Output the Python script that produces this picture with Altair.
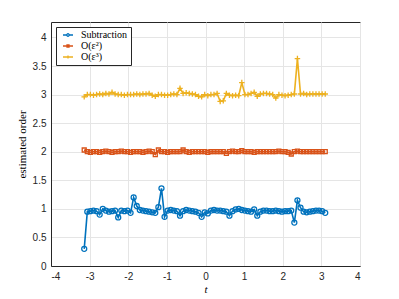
import altair as alt
import pandas as pd

t = [-3.14, -3.06, -2.98, -2.90, -2.82, -2.74, -2.66, -2.58, -2.50, -2.42,
     -2.34, -2.26, -2.18, -2.10, -2.02, -1.94, -1.86, -1.78, -1.70, -1.62,
     -1.54, -1.46, -1.38, -1.30, -1.22, -1.14, -1.06, -0.98, -0.90, -0.82,
     -0.74, -0.66, -0.58, -0.50, -0.42, -0.34, -0.26, -0.18, -0.10, -0.02,
     0.06, 0.14, 0.22, 0.30, 0.38, 0.46, 0.54, 0.62, 0.70, 0.78,
     0.86, 0.94, 1.02, 1.10, 1.18, 1.26, 1.34, 1.42, 1.50, 1.58,
     1.66, 1.74, 1.82, 1.90, 1.98, 2.06, 2.14, 2.22, 2.30, 2.38,
     2.46, 2.54, 2.62, 2.70, 2.78, 2.86, 2.94, 3.02, 3.10]

subtraction = [0.30, 0.95, 0.96, 0.97, 0.96, 0.90, 1.00, 0.97, 0.95, 0.96,
               0.97, 0.85, 0.97, 0.96, 0.97, 0.93, 1.20, 1.05, 0.98, 0.97,
               0.96, 0.95, 0.94, 0.93, 1.03, 1.36, 0.86, 0.97, 0.98, 0.97,
               0.96, 0.88, 0.96, 0.98, 0.97, 0.96, 0.95, 0.93, 0.86, 0.94,
               0.92, 0.97, 0.98, 0.97, 0.97, 0.96, 0.95, 0.88, 0.96, 0.99,
               1.00, 0.98, 0.97, 0.96, 0.95, 0.99, 0.88, 0.95, 0.97, 0.97,
               0.96, 0.96, 0.97, 0.96, 0.95, 0.96, 0.96, 0.97, 0.76, 1.15,
               1.02, 0.95, 0.94, 0.95, 0.96, 0.97, 0.97, 0.96, 0.93]

order2 = [2.03, 2.00, 1.99, 2.00, 2.00, 1.99, 2.00, 2.01, 2.00, 1.99,
          2.00, 2.00, 2.01, 2.00, 2.00, 1.99, 2.00, 2.00, 2.00, 1.99,
          2.00, 2.01, 2.00, 1.95, 2.03, 2.00, 2.00, 1.99, 2.00, 2.00,
          2.00, 2.00, 2.03, 2.00, 1.99, 2.00, 2.00, 2.00, 2.00, 2.00,
          1.99, 2.00, 2.00, 2.00, 2.00, 2.00, 1.97, 2.00, 2.01, 2.00,
          2.00, 2.02, 2.00, 2.00, 2.00, 1.99, 2.00, 2.00, 2.00, 2.00,
          2.00, 2.00, 2.00, 2.01, 2.00, 2.00, 1.99, 1.96, 2.00, 2.01,
          2.00, 2.00, 2.00, 2.00, 2.00, 2.00, 2.00, 2.00, 2.00]

order3 = [2.96, 3.00, 3.00, 2.99, 3.00, 3.01, 3.00, 3.02, 3.01, 3.04,
          3.01, 3.00, 3.00, 2.99, 3.00, 3.00, 3.00, 3.01, 3.00, 3.01,
          3.01, 3.02, 2.99, 2.97, 3.00, 3.00, 2.99, 2.99, 3.00, 3.01,
          3.00, 3.11, 3.02, 3.03, 3.02, 3.01, 3.00, 2.97, 2.96, 3.00,
          2.98, 3.00, 3.00, 3.02, 2.88, 2.89, 3.02, 2.99, 2.98, 2.99,
          2.98, 3.21, 3.00, 3.00, 3.02, 3.04, 2.97, 3.01, 3.02, 3.02,
          3.01, 3.00, 2.94, 3.00, 2.99, 2.98, 2.99, 3.00, 3.01, 3.63,
          3.01, 3.02, 3.00, 3.01, 3.01, 3.01, 3.01, 3.01, 3.01]

series_names = ["Subtraction", "O(ε²)", "O(ε³)"]
colors = ["#0072BD", "#D95319", "#EDB120"]

rows = []
for name, vals in zip(series_names, [subtraction, order2, order3]):
    for ti, v in zip(t, vals):
        rows.append({"t": ti, "value": v, "series": name})
df = pd.DataFrame(rows)

circle = "M-1,0A1,1,0,1,1,1,0A1,1,0,1,1,-1,0"
square = "M-0.8,-0.8L0.8,-0.8L0.8,0.8L-0.8,0.8Z"
plus = "M-1.1,0L1.1,0M0,-1.1L0,1.1"
leg_circle = "M-4,0L-1,0M1,0L4,0M-1,0A1,1,0,1,1,1,0A1,1,0,1,1,-1,0"
leg_square = "M-4,0L4,0M-0.8,-0.8L0.8,-0.8L0.8,0.8L-0.8,0.8Z"
leg_plus = "M-4,0L4,0M0,-1.2L0,1.2"

label_expr = "'' + datum.value"
x = alt.X("t:Q", scale=alt.Scale(domain=[-4, 4], nice=False),
          axis=alt.Axis(values=[-4, -3, -2, -1, 0, 1, 2, 3, 4], title="t", labelExpr=label_expr,
                        titleFont="Liberation Serif", titleFontStyle="italic",
                        titleFontWeight="normal", titleFontSize=11, titlePadding=2))
y = alt.Y("value:Q", scale=alt.Scale(domain=[0, 4.27], nice=False),
          axis=alt.Axis(values=[0, 0.5, 1, 1.5, 2, 2.5, 3, 3.5, 4], title="estimated order",
                        labelExpr=label_expr,
                        titleFont="Liberation Serif", titleFontWeight="normal",
                        titleFontSize=11, titlePadding=5))

color_nolegend = alt.Color("series:N", scale=alt.Scale(domain=series_names, range=colors), legend=None)

legend_props = dict(title=None, orient="top-left", offset=5,
                    labelFont="Liberation Serif", labelFontSize=10,
                    labelColor="#000000", symbolSize=6.25, symbolStrokeWidth=1.3,
                    fillColor="white", strokeColor="#262626", padding=3,
                    rowPadding=1, labelOffset=8, symbolOffset=4)

base = alt.Chart(df)
lines = base.mark_line(strokeWidth=1.6).encode(x=x, y=y, color=color_nolegend, detail="series:N")
points = base.mark_point(filled=False, size=25, strokeWidth=1.3, opacity=1).encode(
    x=x, y=y, color=color_nolegend,
    shape=alt.Shape("series:N", scale=alt.Scale(domain=series_names, range=[circle, square, plus]), legend=None),
)
legend_layer = base.transform_filter("false").mark_point(filled=False, strokeWidth=1.3, opacity=1).encode(
    x=x, y=y,
    color=alt.Color("series:N", scale=alt.Scale(domain=series_names, range=colors),
                    legend=alt.Legend(**legend_props)),
    shape=alt.Shape("series:N", scale=alt.Scale(domain=series_names, range=[leg_circle, leg_square, leg_plus]),
                    legend=alt.Legend(**legend_props)),
)

chart = alt.layer(lines, points, legend_layer).resolve_scale(
    color="independent", shape="independent"
).properties(
    width=309, height=244,
    padding={"left": 8, "top": 14, "right": 5, "bottom": 5},
).configure_view(stroke="#262626", strokeWidth=1).configure_axis(
    labelFont="Liberation Sans", labelFontSize=10, labelColor="#262626",
    gridColor="#e5e5e5", domainColor="#262626", ticks=False, labelPadding=5,
    titleColor="#000000",
).configure_legend(labelFont="Liberation Serif")

chart.save("out.html", embed_options={"renderer": "svg", "actions": False})
